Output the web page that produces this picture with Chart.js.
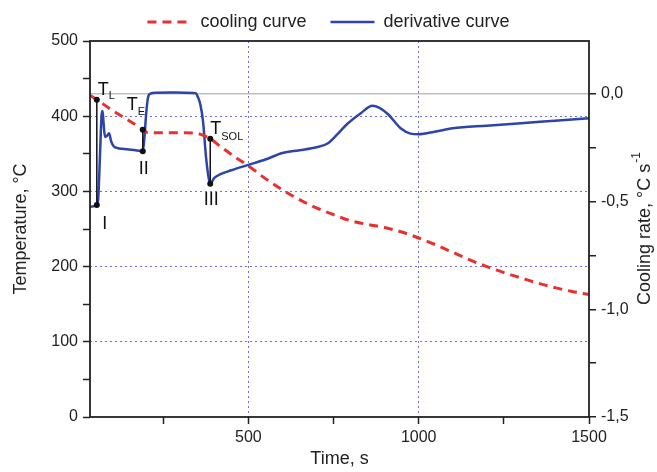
<!DOCTYPE html>
<html>
<head>
<meta charset="utf-8">
<script src="https://cdn.jsdelivr.net/npm/chart.js@4/dist/chart.umd.min.js"></script>
<style>
  html, body { margin: 0; padding: 0; background: #fff; }
</style>
</head>
<body>
<canvas id="chart" width="657" height="472"></canvas>
<script>
"use strict";

// cooling curve (left axis, °C)
const coolingTime = [35, 55, 100, 150, 191, 205, 250, 300, 350, 370, 388, 420, 460, 500, 550, 600, 650, 700, 750, 800, 850, 900, 950, 1000, 1050, 1100, 1150, 1200, 1250, 1300, 1350, 1400, 1450, 1500];
const coolingTemp = [428, 422, 408, 394, 382, 378, 378, 378, 377, 374, 370, 359, 346, 334, 317, 302, 289, 278, 269, 261, 256, 252, 246, 238, 229, 219, 209, 200, 192, 185, 178, 172, 167, 163];

// derivative curve (right axis, °C/s)
const derivTime = [35, 55, 59, 64, 69, 72, 75, 79, 85, 91, 97, 109, 143, 182, 190, 195, 200, 205, 211, 230, 270, 310, 345, 353, 359, 367, 376, 385, 388, 400, 420, 450, 500, 550, 600, 650, 700, 735, 760, 790, 830, 864, 885, 910, 947, 976, 1000, 1050, 1100, 1200, 1300, 1400, 1500];
const derivRate = [-0.525, -0.516, -0.49, -0.3, -0.1, -0.08, -0.14, -0.2, -0.195, -0.183, -0.22, -0.249, -0.257, -0.265, -0.267, -0.2, -0.09, -0.02, 0.0, 0.005, 0.006, 0.005, 0.003, -0.02, -0.05, -0.13, -0.3, -0.405, -0.417, -0.39, -0.372, -0.355, -0.33, -0.305, -0.275, -0.262, -0.248, -0.228, -0.19, -0.14, -0.09, -0.055, -0.065, -0.095, -0.16, -0.185, -0.188, -0.175, -0.16, -0.148, -0.137, -0.125, -0.113];

const timeTicks = [250, 500, 750, 1000, 1250, 1500];
const timeGrid = [500, 1000];
const tempGrid = [100, 200, 300, 400];

// characteristic points
const markerTime = [55, 190, 388];
const markerTemp = [422, 382, 370];
const markerRate = [-0.516, -0.267, -0.417];
const markerSub = ["L", "E", "SOL"];
const markerRoman = ["I", "II", "III"];

const FONT = "'Liberation Sans', Arial, sans-serif";
const INK = "#222";
const GRID_BLUE = "#6f6fd6";

const xy = (xs, ys) => xs.map((v, i) => ({ x: v, y: ys[i] }));

const framePlugin = {
  id: "frame",
  afterDatasetsDraw(chart) {
    const { ctx, chartArea: a } = chart;
    ctx.save();
    ctx.strokeStyle = INK;
    ctx.lineWidth = 1.8;
    ctx.strokeRect(a.left, a.top, a.right - a.left, a.bottom - a.top);
    ctx.restore();
  },
};

const markerPlugin = {
  id: "markers",
  afterDatasetsDraw(chart) {
    const { ctx, scales } = chart;
    const { x, y, y2 } = scales;
    // label offsets relative to the dots: [T dx, T dy, sub dx, sub dy]
    const tPos = [[1, -5, 12, -1], [-16, -20, -5, -15], [0, -5, 11, 1]];
    const rPos = [[8, 24], [1, 23], [1, 21]];
    ctx.save();
    markerTime.forEach((t, i) => {
      const px = x.getPixelForValue(t);
      const pTop = y.getPixelForValue(markerTemp[i]);
      const pBot = y2.getPixelForValue(markerRate[i]);
      ctx.strokeStyle = "#111";
      ctx.fillStyle = "#111";
      ctx.lineWidth = 1.5;
      ctx.beginPath();
      ctx.moveTo(px, pTop);
      ctx.lineTo(px, pBot);
      ctx.stroke();
      [pTop, pBot].forEach((py) => {
        ctx.beginPath();
        ctx.arc(px, py, 3, 0, Math.PI * 2);
        ctx.fill();
      });
      const p = tPos[i];
      ctx.textBaseline = "alphabetic";
      ctx.textAlign = "left";
      ctx.font = `18px ${FONT}`;
      ctx.fillText("T", px + p[0], pTop + p[1]);
      ctx.font = `11px ${FONT}`;
      ctx.fillText(markerSub[i], px + p[2], pTop + p[3]);
      ctx.textAlign = "center";
      ctx.font = `18px ${FONT}`;
      ctx.fillText(markerRoman[i], px + rPos[i][0], pBot + rPos[i][1]);
    });
    ctx.restore();
  },
};

const rightTitlePlugin = {
  id: "rightTitle",
  afterDraw(chart) {
    const { ctx, chartArea: a } = chart;
    const main = "Cooling rate, \u00B0C s";
    ctx.save();
    ctx.translate(chart.width - 12, (a.top + a.bottom) / 2);
    ctx.rotate(-Math.PI / 2);
    ctx.fillStyle = INK;
    ctx.textBaseline = "middle";
    ctx.font = `18px ${FONT}`;
    const w = ctx.measureText(main).width;
    ctx.font = `12px ${FONT}`;
    const ws = ctx.measureText("-1").width;
    const start = -(w + ws) / 2;
    ctx.textAlign = "left";
    ctx.font = `18px ${FONT}`;
    ctx.fillText(main, start, 0);
    ctx.font = `12px ${FONT}`;
    ctx.fillText("-1", start + w + 1, -8);
    ctx.restore();
  },
};

const tickFont = { family: FONT, size: 16 };
const titleFont = { family: FONT, size: 18 };

new Chart(document.getElementById("chart"), {
  type: "line",
  data: {
    datasets: [
      {
        label: "cooling curve",
        data: xy(coolingTime, coolingTemp),
        yAxisID: "y",
        borderColor: "#e8312f",
        backgroundColor: "#e8312f",
        borderWidth: 3,
        borderDash: [9, 6],
        pointRadius: 0,
        cubicInterpolationMode: "monotone",
      },
      {
        label: "derivative curve",
        data: xy(derivTime, derivRate),
        yAxisID: "y2",
        borderColor: "#2d44a8",
        backgroundColor: "#2d44a8",
        borderWidth: 2.5,
        pointRadius: 0,
        cubicInterpolationMode: "monotone",
      },
    ],
  },
  options: {
    responsive: false,
    devicePixelRatio: 1,
    animation: false,
    layout: { padding: { top: -11, left: 0, right: 0, bottom: 0 } },
    plugins: {
      tooltip: { enabled: false },
      legend: {
        position: "top",
        labels: {
          usePointStyle: true,
          pointStyle: "line",
          pointStyleWidth: 44,
          padding: 24,
          color: INK,
          font: { family: FONT, size: 18 },
          generateLabels(chart) {
            const items = Chart.defaults.plugins.legend.labels.generateLabels(chart);
            return items.map((it) => {
              const ds = chart.data.datasets[it.datasetIndex];
              return { ...it, lineDash: ds.borderDash || [], lineWidth: ds.borderWidth, strokeStyle: ds.borderColor };
            });
          },
        },
      },
    },
    scales: {
      x: {
        type: "linear",
        min: 35,
        max: 1500,
        afterBuildTicks: (s) => { s.ticks = timeTicks.map((v) => ({ value: v })); },
        afterFit: (s) => { s.height = 55; },
        ticks: {
          autoSkip: false,
          maxRotation: 0,
          padding: 4,
          color: INK,
          font: tickFont,
          callback: (v) => (v % 500 === 0 ? String(v) : ""),
        },
        grid: {
          color: (c) => (c.tick && timeGrid.includes(c.tick.value) ? GRID_BLUE : "rgba(0,0,0,0)"),
          tickColor: INK,
          tickLength: 7,
          tickWidth: 1.5,
        },
        border: { display: false, dash: [2, 3] },
        title: { display: true, text: "Time, s", color: INK, font: titleFont, padding: { top: 0, bottom: 2 } },
      },
      y: {
        position: "left",
        min: 0,
        max: 500,
        afterBuildTicks: (s) => {
          const t = [];
          for (let v = 0; v <= 500; v += 50) t.push({ value: v });
          s.ticks = t;
        },
        afterFit: (s) => { s.width = 90; },
        ticks: {
          autoSkip: false,
          padding: 5,
          color: INK,
          font: tickFont,
          callback: (v) => (v % 100 === 0 ? String(v) : ""),
        },
        grid: {
          color: (c) => (c.tick && tempGrid.includes(c.tick.value) ? GRID_BLUE : "rgba(0,0,0,0)"),
          tickColor: INK,
          tickLength: 7,
          tickWidth: 1.5,
        },
        border: { display: false, dash: [2, 3] },
        title: { display: true, text: "Temperature, \u00B0C", color: INK, font: titleFont, padding: { top: 10, bottom: 0 } },
      },
      y2: {
        position: "right",
        min: -1.5,
        max: 0.245,
        afterBuildTicks: (s) => {
          const t = [];
          for (let v = -1.5; v <= 0.001; v += 0.25) t.push({ value: v });
          s.ticks = t;
        },
        afterFit: (s) => { s.width = 68; },
        ticks: {
          autoSkip: false,
          padding: 5,
          color: INK,
          font: tickFont,
          callback: (v) => (Math.abs(v * 2 - Math.round(v * 2)) < 1e-6 ? v.toFixed(1).replace(".", ",") : ""),
        },
        grid: {
          drawOnChartArea: true,
          color: (c) => (c.tick && Math.abs(c.tick.value) < 1e-6 ? "#bdbdbd" : "rgba(0,0,0,0)"),
          lineWidth: 1.5,
          tickColor: INK,
          tickLength: 7,
          tickWidth: 1.5,
        },
        border: { display: false },
      },
    },
  },
  plugins: [framePlugin, markerPlugin, rightTitlePlugin],
});
</script>
</body>
</html>
